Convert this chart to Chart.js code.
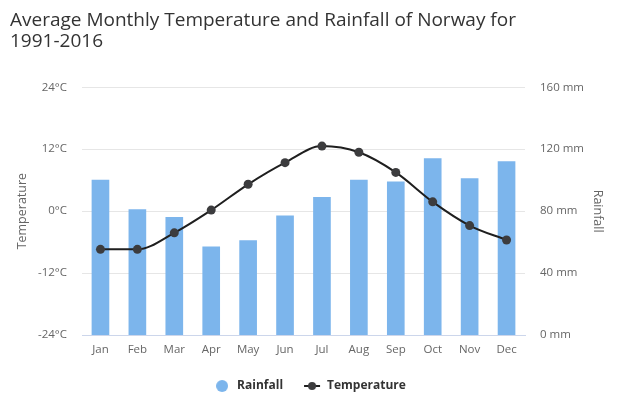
<!DOCTYPE html>
<html>
<head>
<meta charset="utf-8">
<script src="https://cdn.jsdelivr.net/npm/chart.js@4/dist/chart.umd.min.js"></script>
<style>
  html, body { margin: 0; padding: 0; background: #ffffff; }
  #wrap { width: 621px; height: 395px; position: relative; }
</style>
</head>
<body>
<div id="wrap"><canvas id="c" width="621" height="395"></canvas></div>
<script>
const titleLines = ['Average Monthly Temperature and Rainfall of Norway for', '1991-2016'];
const months = ['Jan', 'Feb', 'Mar', 'Apr', 'May', 'Jun', 'Jul', 'Aug', 'Sep', 'Oct', 'Nov', 'Dec'];
const rainfall = [100, 81, 76, 57, 61, 77, 89, 100, 99, 114, 101, 112];
const temperature = [-7.4, -7.4, -4.2, 0.2, 5.2, 9.4, 12.6, 11.4, 7.5, 1.8, -2.8, -5.6];
const tempTicks = [-24, -12, 0, 12, 24];
const rainTicks = [0, 40, 80, 120, 160];

const FONT = "'Open Sans', 'Noto Sans', sans-serif";
const BAR_COLOR = '#7cb5ec';
const LINE_COLOR = '#1f1f1f';
const MARKER_COLOR = '#3c3c3e';

function makeCircleImg() {
  const c = document.createElement('canvas');
  c.width = 12; c.height = 12;
  const g = c.getContext('2d');
  g.fillStyle = BAR_COLOR;
  g.beginPath(); g.arc(6, 6, 6, 0, Math.PI * 2); g.fill();
  return c;
}
function makeLineImg() {
  const c = document.createElement('canvas');
  c.width = 18; c.height = 10;
  const g = c.getContext('2d');
  g.strokeStyle = LINE_COLOR; g.lineWidth = 2;
  g.beginPath(); g.moveTo(1, 5); g.lineTo(17, 5); g.stroke();
  g.fillStyle = MARKER_COLOR;
  g.beginPath(); g.arc(9, 5, 4, 0, Math.PI * 2); g.fill();
  return c;
}
const legendMarks = { 'Rainfall': makeCircleImg(), 'Temperature': makeLineImg() };

new Chart(document.getElementById('c'), {
  data: {
    labels: months,
    datasets: [
      {
        type: 'bar',
        label: 'Rainfall',
        data: rainfall,
        yAxisID: 'yRain',
        backgroundColor: BAR_COLOR,
        borderWidth: 0,
        barThickness: 17,
        order: 2
      },
      {
        type: 'line',
        label: 'Temperature',
        data: temperature,
        yAxisID: 'yTemp',
        borderColor: LINE_COLOR,
        borderWidth: 2,
        backgroundColor: MARKER_COLOR,
        pointBackgroundColor: MARKER_COLOR,
        pointBorderColor: MARKER_COLOR,
        pointBorderWidth: 0,
        pointRadius: 4.5,
        pointHoverRadius: 4.5,
        cubicInterpolationMode: 'monotone',
        fill: false,
        order: 1
      }
    ]
  },
  options: {
    responsive: false,
    animation: false,
    devicePixelRatio: 1,
    layout: { padding: { left: 10, right: 12, top: 0, bottom: -7 } },
    plugins: {
      tooltip: { enabled: false },
      title: {
        display: true,
        text: titleLines,
        align: 'start',
        color: '#333333',
        font: { family: FONT, size: 19, weight: 'normal', lineHeight: 1.06 },
        padding: { top: 11, bottom: 36 }
      },
      legend: {
        display: true,
        position: 'bottom',
        labels: {
          usePointStyle: true,
          pointStyleWidth: 18,
          padding: 20,
          color: '#333333',
          font: { family: FONT, size: 12, weight: 'bold' },
          sort: (a, b) => a.datasetIndex - b.datasetIndex,
          generateLabels: (chart) => {
            const items = Chart.defaults.plugins.legend.labels.generateLabels(chart);
            items.forEach(it => { it.pointStyle = legendMarks[it.text]; });
            return items;
          }
        }
      }
    },
    scales: {
      x: {
        type: 'category',
        offset: true,
        grid: { display: false, drawTicks: false },
        border: { display: true, color: '#ccd6eb', width: 1 },
        ticks: { color: '#666666', font: { family: FONT, size: 11.5 }, padding: 8, maxRotation: 0, autoSkip: false },
        afterFit: (s) => { s.height = 25; }
      },
      yTemp: {
        type: 'linear',
        position: 'left',
        min: -24,
        max: 24,
        afterBuildTicks: (s) => { s.ticks = tempTicks.map(v => ({ value: v })); },
        grid: {
          drawTicks: false,
          color: (ctx) => (ctx.tick && ctx.tick.value === -24) ? 'rgba(0,0,0,0)' : '#e6e6e6',
          lineWidth: 1
        },
        border: { display: false },
        ticks: {
          color: '#666666',
          font: { family: FONT, size: 11.5 },
          padding: 15,
          callback: (v) => v + '°C'
        },
        title: {
          display: true,
          text: 'Temperature',
          color: '#666666',
          font: { family: FONT, size: 12.5 },
          padding: { top: 5, bottom: 0 }
        },
        afterFit: (s) => { s.width = 72; }
      },
      yRain: {
        type: 'linear',
        position: 'right',
        min: 0,
        max: 160,
        afterBuildTicks: (s) => { s.ticks = rainTicks.map(v => ({ value: v })); },
        grid: { display: false, drawTicks: false },
        border: { display: false },
        ticks: {
          color: '#666666',
          font: { family: FONT, size: 11.5 },
          padding: 15,
          callback: (v) => v + ' mm'
        },
        title: {
          display: true,
          text: 'Rainfall',
          color: '#666666',
          font: { family: FONT, size: 12.5 },
          padding: { top: 4, bottom: 0 }
        },
        afterFit: (s) => { s.width = 84; }
      }
    }
  }
});
</script>
</body>
</html>
